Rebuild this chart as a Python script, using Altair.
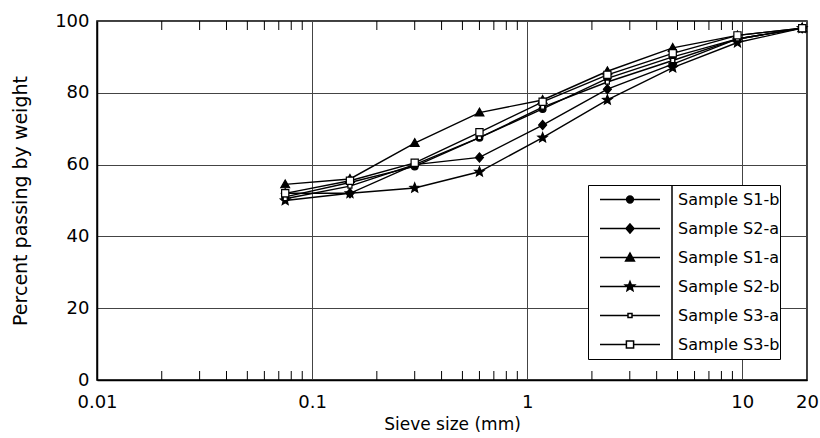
import math
import altair as alt
import pandas as pd

# ---------------- data ----------------
sieve_mm = [0.075, 0.15, 0.3, 0.6, 1.18, 2.36, 4.75, 9.5, 19]
series_names = ["Sample S1-b", "Sample S2-a", "Sample S1-a",
                "Sample S2-b", "Sample S3-a", "Sample S3-b"]
s1b = [51, 55, 59.5, 67.5, 75.5, 84, 90, 95, 98]
s2a = [52, 52, 60, 62, 71, 81, 88, 95, 98]
s1a = [54.5, 56, 66, 74.5, 78, 86, 92.5, 96, 98]
s2b = [50, 52, 53.5, 58, 67.5, 78, 87, 94, 98]
s3a = [50.5, 54, 60, 67.5, 76, 83, 89, 95, 98]
s3b = [52, 55.5, 60.5, 69, 77.5, 85, 91, 96, 98]
all_series = [s1b, s2a, s1a, s2b, s3a, s3b]

x_label_values = [0.01, 0.1, 1, 10, 20]
y_label_values = [0, 20, 40, 60, 80, 100]
minor_ticks = [0.02, 0.03, 0.04, 0.05, 0.06, 0.07, 0.08, 0.09,
               0.2, 0.3, 0.4, 0.5, 0.6, 0.7, 0.8, 0.9,
               2, 3, 4, 5, 6, 7, 8, 9]

rows = []
for name, vals in zip(series_names, all_series):
    for s, v in zip(sieve_mm, vals):
        rows.append({"size": s, "passing": v, "series": name})
df = pd.DataFrame(rows)
ticks_df = pd.DataFrame({"size": minor_ticks})

# ---------------- marker paths ----------------
U = 5.0  # px per path unit for size=100


def f(v):
    return f"{v / U:.3f}"


def poly(pts):
    return "M" + "L".join(f"{f(x)},{f(y)}" for x, y in pts) + "Z"


def circ(r):
    return (f"M{f(-r)},0A{f(r)},{f(r)} 0 1,0 {f(r)},0"
            f"A{f(r)},{f(r)} 0 1,0 {f(-r)},0Z")


def star(ro, ri):
    pts = []
    for k in range(10):
        a = math.radians(-90 + 36 * k)
        r = ro if k % 2 == 0 else ri
        pts.append((r * math.cos(a), r * math.sin(a)))
    return poly(pts)


def sq(h):
    return poly([(-h, -h), (h, -h), (h, h), (-h, h)])


markers = [circ(3.4),
           poly([(0, -4.6), (4.0, 0), (0, 4.6), (-4.0, 0)]),
           poly([(0, -4.4), (4.4, 3.4), (-4.4, 3.4)]),
           star(5.0, 2.2),
           sq(2.0),
           sq(3.6)]
gaps = [0, 0, 0, 0, 2.0, 3.6]
fills = ["black", "black", "black", "black", "white", "white"]

ROW = 29
legend_paths = []
for m, g in zip(markers, gaps):
    if g > 0:
        line = f"M{f(-30)},0L{f(-g)},0M{f(g)},0L{f(30)},0"
    else:
        line = f"M{f(-30)},0L{f(30)},0"
    div = f"M{f(42)},{f(-ROW / 2)}L{f(42)},{f(ROW / 2)}"
    legend_paths.append(line + div + m)

W, H = 710, 359

x = alt.X("size:Q",
          scale=alt.Scale(type="log", domain=[0.01, 20]),
          axis=alt.Axis(values=x_label_values, format=".2~f", grid=True,
                        labelFlush=False, labelPadding=13, titlePadding=5,
                        titleFontSize=17, tickSize=0),
          title="Sieve size (mm)")
y = alt.Y("passing:Q",
          scale=alt.Scale(domain=[0, 100]),
          axis=alt.Axis(values=y_label_values, grid=True, labelPadding=8,
                        titlePadding=24, titleFontSize=19, tickSize=0),
          title="Percent passing by weight")

bottom_ticks = alt.Chart(ticks_df).mark_rule(color="black", strokeWidth=1).encode(
    x=x, y=alt.value(H), y2=alt.value(H - 9))
top_ticks = alt.Chart(ticks_df).mark_rule(color="black", strokeWidth=1).encode(
    x=x, y=alt.value(0), y2=alt.value(9))

lines = alt.Chart(df).mark_line(color="black", strokeWidth=1.4).encode(
    x=x, y=y, detail="series:N")

points = alt.Chart(df).mark_point(size=100, stroke="black", strokeWidth=1.2,
                                  opacity=1, fillOpacity=1).encode(
    x=x, y=y,
    shape=alt.Shape("series:N",
                    scale=alt.Scale(domain=series_names, range=markers),
                    legend=None),
    fill=alt.Fill("series:N",
                  scale=alt.Scale(domain=series_names, range=fills),
                  legend=None))

leg = alt.Legend(orient="none", legendX=491, legendY=164, padding=0,
                 rowPadding=-1.5, gridAlign="each", clipHeight=ROW,
                 symbolSize=100, labelFont="DejaVu Sans",
                 labelFontSize=16, labelColor="black", labelOffset=40,
                 symbolOffset=34, strokeColor="black", fillColor="white",
                 labelExpr="datum.label + '\u00a0\u00a0'",
                 symbolStrokeWidth=1.5, symbolOpacity=1, title=None)

legend_layer = alt.Chart(df).transform_filter("false").mark_point(
    size=100, strokeWidth=1.5, opacity=1, fillOpacity=1).encode(
    shape=alt.Shape("series:N",
                    scale=alt.Scale(domain=series_names, range=legend_paths),
                    legend=leg, title=None),
    fill=alt.Fill("series:N",
                  scale=alt.Scale(domain=series_names, range=fills),
                  legend=leg, title=None),
    stroke=alt.Stroke("series:N",
                      scale=alt.Scale(domain=series_names,
                                      range=["black"] * len(series_names)),
                      legend=leg, title=None))

chart = alt.layer(bottom_ticks, top_ticks, lines, points, legend_layer).resolve_scale(
    shape="independent", fill="independent", stroke="independent"
).resolve_legend(
    shape="independent", fill="independent", stroke="independent"
).properties(
    width=W, height=H,
    autosize=alt.AutoSizeParams(type="none"),
    padding={"left": 97, "top": 21, "right": 13, "bottom": 58},
).configure_view(
    stroke="black", strokeWidth=1.5
).configure_axis(
    domainColor="black", domainWidth=1.5, gridColor="#444444", gridWidth=1,
    gridOpacity=1, labelFont="DejaVu Sans", labelFontSize=18,
    labelColor="black", titleFont="DejaVu Sans", titleFontWeight="normal",
    titleColor="black"
)

chart.save("out.html", embed_options={"renderer": "svg", "actions": False})
